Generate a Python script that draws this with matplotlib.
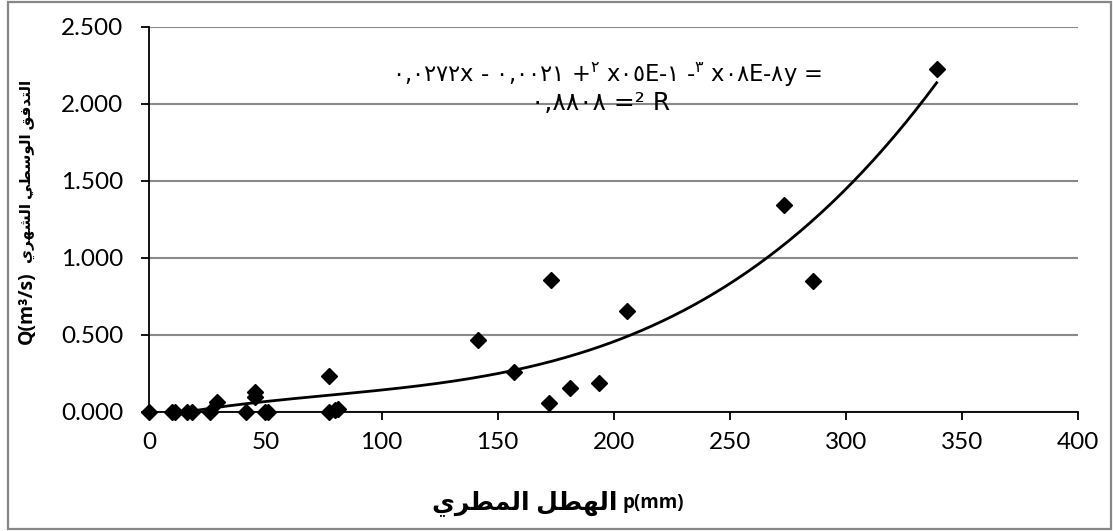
import numpy as np
from matplotlib import pyplot as plt
from matplotlib.patches import Rectangle

# monthly rainfall p (mm) and mean monthly discharge Q (m3/s)
rain = [0, 9.8, 11.1, 16.1, 18.3, 26.1, 29.0, 41.6, 45.5, 45.5, 49.8, 51.1,
        77.4, 77.5, 79.9, 81.2, 141.4, 157.0, 172.1, 172.9, 181.0, 193.8,
        205.7, 273.2, 285.6, 339.0]
flow = [0, 0, 0, 0, 0, 0, 0.06, 0, 0.13, 0.095, 0, 0,
        0, 0.23, 0.01, 0.02, 0.465, 0.26, 0.055, 0.855, 0.155, 0.185,
        0.655, 1.34, 0.85, 2.225]

x_ticks = [0, 50, 100, 150, 200, 250, 300, 350, 400]
y_ticks = [0, 0.5, 1.0, 1.5, 2.0, 2.5]

x_title_ar = "الهطل المطري"
y_title_ar = "التدفق الوسطي الشهري"
eq_text = "٠,٠٢٧٢x - ٠,٠٠٢١ +$\\mathregular{^{٢}}$ x٠٥E-١ -$\\mathregular{^{٣}}$ x٠٨E-٨y ="
r2_text = "٠,٨٨٠٨ =² R"

# arabic presentation forms: isolated, final, initial, medial
forms = {
	"ا": (0xFE8D, 0xFE8E, None, None),
	"ت": (0xFE95, 0xFE96, 0xFE97, 0xFE98),
	"د": (0xFEA9, 0xFEAA, None, None),
	"ر": (0xFEAD, 0xFEAE, None, None),
	"س": (0xFEB1, 0xFEB2, 0xFEB3, 0xFEB4),
	"ش": (0xFEB5, 0xFEB6, 0xFEB7, 0xFEB8),
	"ط": (0xFEC1, 0xFEC2, 0xFEC3, 0xFEC4),
	"ف": (0xFED1, 0xFED2, 0xFED3, 0xFED4),
	"ق": (0xFED5, 0xFED6, 0xFED7, 0xFED8),
	"ل": (0xFEDD, 0xFEDE, 0xFEDF, 0xFEE0),
	"م": (0xFEE1, 0xFEE2, 0xFEE3, 0xFEE4),
	"ه": (0xFEE9, 0xFEEA, 0xFEEB, 0xFEEC),
	"و": (0xFEED, 0xFEEE, None, None),
	"ي": (0xFEF1, 0xFEF2, 0xFEF3, 0xFEF4),
}

def shape(text):
	out = []
	for i, c in enumerate(text):
		if c not in forms:
			out.append(c)
			continue
		prev = text[i - 1] if i > 0 else ""
		nxt = text[i + 1] if i + 1 < len(text) else ""
		jp = prev in forms and forms[prev][2] is not None
		jn = nxt in forms and forms[c][2] is not None
		iso, fin, ini, med = forms[c]
		if jp and jn:
			code = med
		elif jp:
			code = fin
		elif jn:
			code = ini
		else:
			code = iso
		out.append(chr(code))
	return "".join(out)[::-1]

plt.rcParams['font.family'] = ['Lato', 'DejaVu Sans']
plt.rcParams['mathtext.fontset'] = 'dejavusans'
bold_fam = ['Open Sans', 'DejaVu Sans']

W, H = 1113, 531
fig = plt.figure(figsize=(W / 100, H / 100), dpi=100)
fig.patches.append(Rectangle((8 / W, 2 / H), 1103 / W, 527 / H,
                             transform=fig.transFigure, fill=False,
                             edgecolor='#878787', linewidth=1.6))
ax = fig.add_axes([149.3 / W, 119.3 / H, 929 / W, 385 / H])

# cubic trendline
coef = np.polyfit(rain, flow, 3)
xs = np.linspace(min(rain), max(rain), 300)
ax.plot(xs, np.polyval(coef, xs), color='black', linewidth=2.0, zorder=3)
ax.plot(rain, flow, linestyle='none', marker='D', markersize=8,
        color='black', zorder=4, clip_on=False)

ax.set_xlim(0, 400)
ax.set_ylim(0, 2.5)
ax.set_xticks(x_ticks)
ax.set_yticks(y_ticks)
ax.set_yticklabels(["%.3f" % v for v in y_ticks])
ax.grid(axis='y', color='#898989', linewidth=1.5)
ax.set_axisbelow(True)
for s in ['top', 'right']:
	ax.spines[s].set_visible(False)
for s in ['left', 'bottom']:
	ax.spines[s].set_linewidth(1.3)
ax.tick_params(axis='both', labelsize=17.5, length=5.5, width=1.3)
ax.tick_params(axis='y', pad=13)
ax.tick_params(axis='x', pad=9)

ax.text((607 - 149.3) / 929, (411.7 - 75) / 385, eq_text, transform=ax.transAxes,
        ha='center', va='center', fontsize=16.3, family='DejaVu Sans')
ax.text((601 - 149.3) / 929, (411.7 - 103) / 385, r2_text, transform=ax.transAxes,
        ha='center', va='center', fontsize=18, family='DejaVu Sans')

# x title: arabic part then latin part
fig.text(618 / W, 1 - 503 / H, shape(x_title_ar), ha='right', va='center',
         fontsize=18, fontweight='bold', family=bold_fam)
fig.text(622 / W, 1 - 503 / H, "p(mm)", ha='left', va='center',
         fontsize=13.5, fontweight='bold', family=bold_fam)
# y title, rotated
fig.text(27 / W, 1 - 308 / H, "Q(m³/s)", ha='center', va='center',
         fontsize=14, fontweight='bold', rotation=90, family=bold_fam)
fig.text(27 / W, 1 - 171 / H, shape(y_title_ar), ha='center', va='center',
         fontsize=11, fontweight='bold', rotation=90, family=bold_fam)

plt.savefig("out.png", dpi=100)
